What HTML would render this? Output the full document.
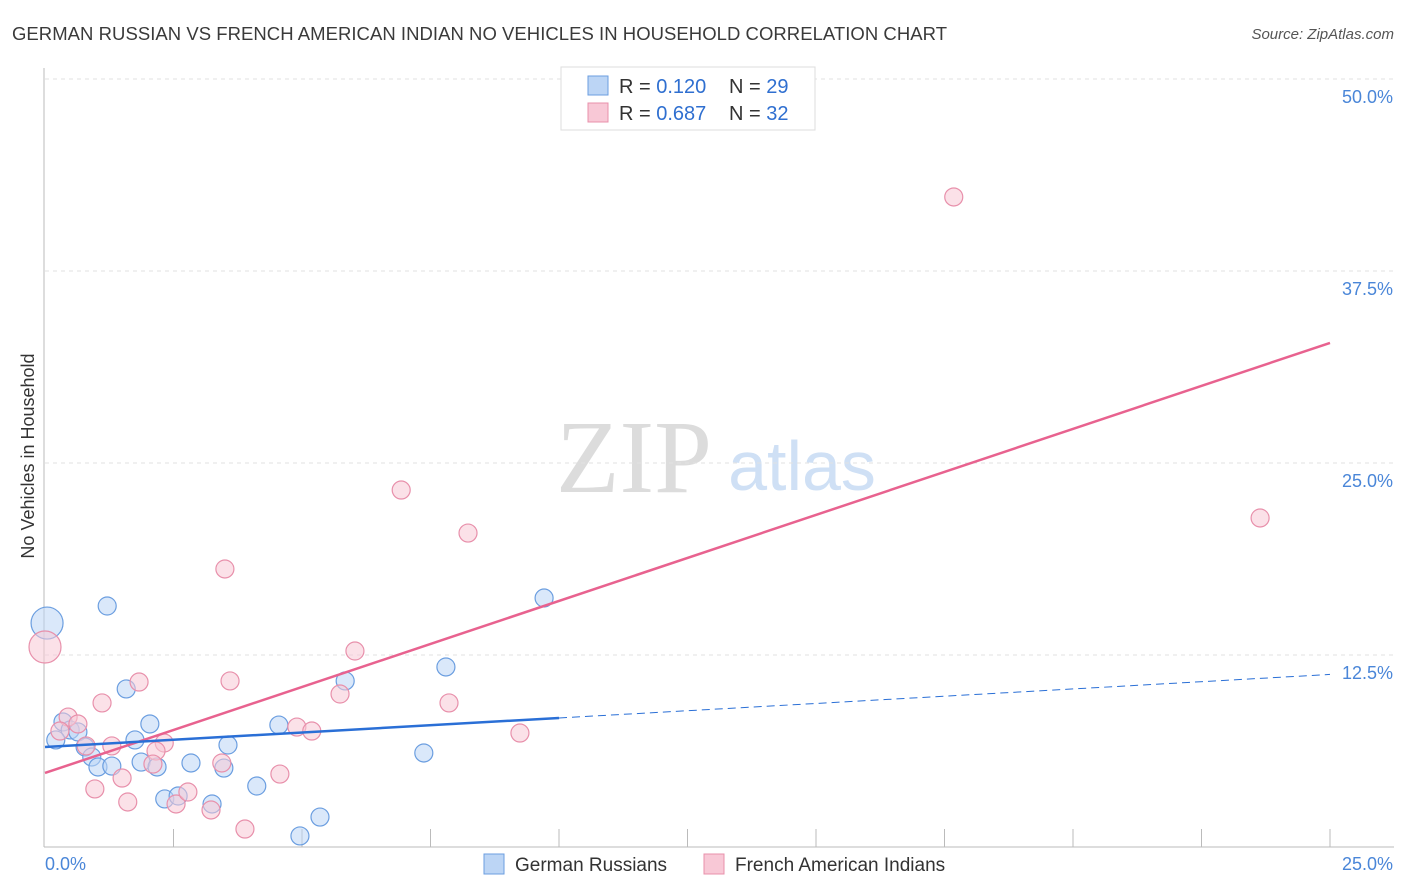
<!DOCTYPE html>
<html><head><meta charset="utf-8"><style>
body{margin:0;background:#fff;font-family:"Liberation Sans",sans-serif;}
svg{display:block}
</style></head><body>
<svg id="chart" width="1406" height="892">
<text x="12" y="40" font-size="18.5" textLength="935" fill="#3a3a3a">GERMAN RUSSIAN VS FRENCH AMERICAN INDIAN NO VEHICLES IN HOUSEHOLD CORRELATION CHART</text>
<text x="1394" y="39" font-size="15" font-style="italic" fill="#555" text-anchor="end">Source: ZipAtlas.com</text>
<text x="634" y="492" font-size="104" font-family="Liberation Serif,serif" fill="#dcdcdc" text-anchor="middle">ZIP</text>
<text x="802" y="490" font-size="70" fill="#cfe0f5" text-anchor="middle">atlas</text>
<text transform="translate(34,456) rotate(-90)" font-size="18" fill="#333" text-anchor="middle">No Vehicles in Household</text>
<g id="grid"></g><g id="marks"></g>
<g>
<rect x="561" y="67" width="254" height="63" fill="#fff" stroke="#ddd"/>
<rect x="588" y="76" width="20" height="19" fill="#bcd5f5" stroke="#6b9ee0"/>
<text x="619" y="93" font-size="20" fill="#333">R = <tspan fill="#2f6fd0">0.120</tspan></text>
<text x="729" y="93" font-size="20" fill="#333">N = <tspan fill="#2f6fd0">29</tspan></text>
<rect x="588" y="103" width="20" height="19" fill="#f8c8d6" stroke="#e890ab"/>
<text x="619" y="120" font-size="20" fill="#333">R = <tspan fill="#2f6fd0">0.687</tspan></text>
<text x="729" y="120" font-size="20" fill="#333">N = <tspan fill="#2f6fd0">32</tspan></text>
</g>
<g>
<rect x="484" y="854" width="20" height="20" fill="#bcd5f5" stroke="#6b9ee0"/>
<text x="515" y="871" font-size="19" fill="#333">German Russians</text>
<rect x="704" y="854" width="20" height="20" fill="#f8c8d6" stroke="#e890ab"/>
<text x="735" y="871" font-size="19" fill="#333">French American Indians</text>
</g>
</svg>
<script>
const xTicks=[0,25];
const yTicks=[12.5,25,37.5,50];
const blueX=[0.04,1.21,1.58,2.04,0.35,0.49,0.64,0.78,0.21,0.91,1.03,1.30,1.75,1.87,2.18,2.33,2.59,2.84,3.25,3.48,3.56,4.12,4.55,4.96,5.35,5.84,7.37,7.80,9.71];
const blueY=[14.58,15.69,10.29,8.01,8.14,7.62,7.49,6.51,6.97,5.86,5.21,5.27,6.97,5.53,5.21,3.13,3.32,5.47,2.80,5.14,6.64,3.97,7.94,0.72,1.95,10.81,6.12,11.72,16.21];
const pinkX=[0.0,1.11,0.45,0.64,0.29,0.80,1.30,2.32,2.16,2.10,1.83,0.97,1.50,1.61,2.55,2.78,3.23,3.44,3.60,3.50,3.89,4.57,4.90,5.19,5.74,6.03,6.93,7.86,8.23,9.24,17.68,23.64];
const pinkY=[13.02,9.38,8.46,8.01,7.55,6.58,6.58,6.77,6.25,5.40,10.74,3.78,4.49,2.93,2.80,3.58,2.41,5.47,10.81,18.10,1.17,4.75,7.81,7.55,9.96,12.76,23.24,9.38,20.44,7.42,42.32,21.42];
const blueTrend=[6.51,0.189];
const pinkTrend=[4.82,1.12];
const NS='http://www.w3.org/2000/svg';
const X=v=>45+v*51.4, Y=v=>847-v*15.36;
function mk(p,t,a){const e=document.createElementNS(NS,t);for(const k in a)e.setAttribute(k,a[k]);p.appendChild(e);return e;}
const g=document.getElementById('grid'), m=document.getElementById('marks');
yTicks.forEach(v=>{
 const l=mk(g,'line',{x1:45,x2:1394,y1:Y(v),y2:Y(v),stroke:'#e2e2e2','stroke-dasharray':'4,4'});
 
 
 const t=mk(g,'text',{x:1393,y:Y(v)+24,'font-size':18,fill:'#4a86d8','text-anchor':'end'});t.textContent=v.toFixed(1)+'%';
 
 
});
mk(g,'line',{x1:44,x2:44,y1:68,y2:847,stroke:'#bbb'});
mk(g,'line',{x1:44,x2:1394,y1:847,y2:847,stroke:'#bbb'});
for(let i=1;i<=10;i++){const tk=mk(g,'line',{x1:X(i*2.5),x2:X(i*2.5),y1:829,y2:847,stroke:'#bbb'});
 
 }
xTicks.forEach((v,i)=>{const t=mk(g,'text',{x:i?1393:45,y:870,'font-size':18,fill:'#4a86d8','text-anchor':i?'end':'start'});t.textContent=v.toFixed(1)+'%';
 
 });
function pts(xs,ys,fill,stroke,name){xs.forEach((x,i)=>{const r=(x<0.1&&ys[i]>12)?16:9;
 const c=mk(m,'circle',{cx:X(x),cy:Y(ys[i]),r:r,fill:fill,'fill-opacity':0.55,stroke:stroke,'stroke-width':1.2});
 
 });}
pts(blueX,blueY,'#bcd5f5','#6b9ee0','german-russian-point');
pts(pinkX,pinkY,'#f8c8d6','#e890ab','french-american-indian-point');
const pl=mk(m,'line',{x1:X(0),y1:Y(pinkTrend[0]),x2:X(25),y2:Y(pinkTrend[0]+25*pinkTrend[1]),stroke:'#e8628f','stroke-width':2.5});


const bl=mk(m,'line',{x1:X(0),y1:Y(blueTrend[0]),x2:X(10),y2:Y(blueTrend[0]+10*blueTrend[1]),stroke:'#2a6fd6','stroke-width':2.5});


const bd=mk(m,'line',{x1:X(10),y1:Y(blueTrend[0]+10*blueTrend[1]),x2:X(25),y2:Y(blueTrend[0]+25*blueTrend[1]),stroke:'#2a6fd6','stroke-width':1,'stroke-dasharray':'8,5'});


</script>
</body></html>
